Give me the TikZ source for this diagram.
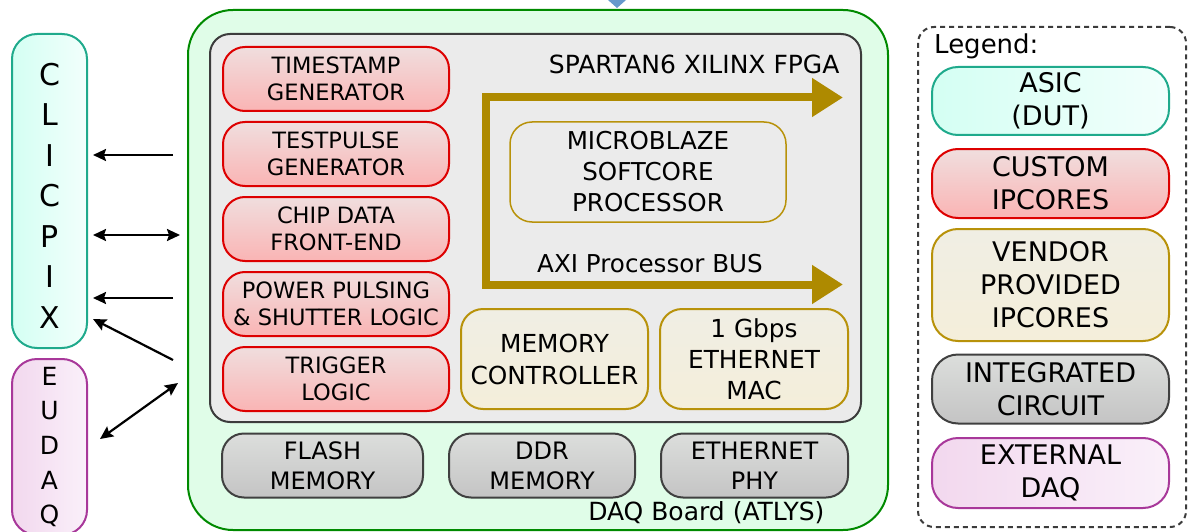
\documentclass[tikz,border=0pt]{standalone}
\usepackage{fontspec}
\setmainfont{DejaVu Sans}
\usetikzlibrary{arrows.meta}
\definecolor{tealb}{HTML}{1FAA8C}
\definecolor{tealf1}{HTML}{D4FFF3}
\definecolor{tealf2}{HTML}{F2FFFC}
\definecolor{redb}{HTML}{DD0000}
\definecolor{redf1}{HTML}{F0DEDE}
\definecolor{redf2}{HTML}{FAB4B4}
\definecolor{oliveb}{HTML}{B8920A}
\definecolor{olivef1}{HTML}{F0EEE4}
\definecolor{olivef2}{HTML}{F4EEDA}
\definecolor{grayb}{HTML}{404040}
\definecolor{grayf1}{HTML}{DCDEDC}
\definecolor{grayf2}{HTML}{C4C4C4}
\definecolor{purpb}{HTML}{A8389A}
\definecolor{purpf1}{HTML}{F2D8EE}
\definecolor{purpf2}{HTML}{FAF0FA}
\definecolor{greenb}{HTML}{008A00}
\definecolor{greenf}{HTML}{E0FDE8}
\definecolor{fpgaf}{HTML}{EBEBEB}
\definecolor{fpgab}{HTML}{3C3C3C}
\definecolor{axic}{HTML}{AE8A00}
\definecolor{bluet}{HTML}{6699CC}
\begin{document}
\begin{tikzpicture}[x=1pt,y=-1pt,
  base/.style={draw, line width=2pt, align=center, inner sep=0pt, font=\fontsize{22.5}{27}\selectfont},
  asicbox/.style={base, draw=tealb, left color=tealf1, right color=tealf2, rounded corners=25pt},
  redbox/.style={base, draw=redb, top color=redf1, bottom color=redf2, rounded corners=22pt},
  vendbox/.style={base, draw=oliveb, top color=olivef1, bottom color=olivef2, rounded corners=22pt},
  icbox/.style={base, draw=grayb, top color=grayf1, bottom color=grayf2, rounded corners=22pt},
  daqbox/.style={base, draw=purpb, left color=purpf1, right color=purpf2, rounded corners=25pt},
  legbox/.style={font=\fontsize{27}{33}\selectfont, minimum width=237pt, rounded corners=26pt},
  arr/.style={line width=2.2pt, -{Stealth[length=13pt,width=12pt,inset=2pt]}},
  darr/.style={line width=2.2pt, {Stealth[length=13pt,width=12pt,inset=2pt]}-{Stealth[length=13pt,width=12pt,inset=2pt]}},
  axi/.style={draw=axic, line width=8pt, line join=miter}
]
\useasboundingbox (0,0) rectangle (1188,532);

% top blue triangle
\fill[bluet] (608,0) -- (626,0) -- (617,8) -- cycle;

% DAQ board
\node[draw=greenb, line width=2pt, fill=greenf, rounded corners=45pt,
  minimum width=700pt, minimum height=520pt, inner sep=0pt] (board) at (538,270) {};
\node[anchor=east, font=\fontsize{25}{28}\selectfont] (boardlbl) at (828,513) {DAQ Board (ATLYS)};

% FPGA
\node[draw=fpgab, line width=2pt, fill=fpgaf, rounded corners=20pt,
  minimum width=651pt, minimum height=388pt, inner sep=0pt] (fpga) at (535.5,228) {};
\node[anchor=east, font=\fontsize{25}{28}\selectfont] (fpgalbl) at (843,64) {SPARTAN6 XILINX FPGA};

% custom ipcores
\node[redbox, minimum width=226pt, minimum height=64pt] (ts) at (336,79) {TIMESTAMP\\GENERATOR};
\node[redbox, minimum width=226pt, minimum height=64pt] (tp) at (336,154) {TESTPULSE\\GENERATOR};
\node[redbox, minimum width=226pt, minimum height=64pt] (cd) at (336,229) {CHIP DATA\\FRONT-END};
\node[redbox, minimum width=226pt, minimum height=64pt] (pp) at (336,304) {POWER PULSING\\\& SHUTTER LOGIC};
\node[redbox, minimum width=226pt, minimum height=64pt] (tr) at (336,379) {TRIGGER\\LOGIC};

% AXI bus
\coordinate (axitop) at (843,97.5);
\coordinate (axicorner1) at (486,97.5);
\coordinate (axicorner2) at (486,284.5);
\coordinate (axibot) at (843,284.5);
\draw[axi, {Triangle[length=31pt,width=37pt]}-{Triangle[length=31pt,width=37pt]}]
  (axitop) -- (axicorner1) -- (axicorner2) -- (axibot);
\node[font=\fontsize{24.6}{28}\selectfont] (axilbl) at (650,263.5) {AXI Processor BUS};

% vendor ipcores
\node[base, draw=oliveb, line width=1.5pt, fill=fpgaf, rounded corners=22pt,
  minimum width=276pt, minimum height=100pt, font=\fontsize{24.6}{31}\selectfont] (mb) at (648,172)
  {MICROBLAZE\\SOFTCORE\\PROCESSOR};
\node[vendbox, minimum width=187pt, minimum height=100pt, font=\fontsize{24.8}{32}\selectfont] (mc) at (554.5,359)
  {MEMORY\\CONTROLLER};
\node[vendbox, minimum width=188pt, minimum height=100pt, font=\fontsize{24.8}{31}\selectfont] (mac) at (754,359)
  {1 Gbps\\ETHERNET\\MAC};

% integrated circuits
\node[icbox, minimum width=201pt, minimum height=64pt, font=\fontsize{24}{30}\selectfont] (flash) at (322.5,465.5) {FLASH\\MEMORY};
\node[icbox, minimum width=186pt, minimum height=64pt, font=\fontsize{24}{30}\selectfont] (ddr) at (542,465.5) {DDR\\MEMORY};
\node[icbox, minimum width=187pt, minimum height=64pt, font=\fontsize{24}{30}\selectfont] (phy) at (754.5,465.5) {ETHERNET\\PHY};

% CLICPIX and EUDAQ
\node[asicbox, minimum width=75pt, minimum height=314pt, font=\fontsize{30}{40.5}\selectfont] (clicpix) at (49.5,191)
  {\rule{0pt}{31pt}C\\L\\I\\C\\P\\I\\X};
\node[daqbox, minimum width=75pt, minimum height=176pt, font=\fontsize{25}{34.6}\selectfont] (eudaq) at (49.5,447)
  {E\\U\\D\\A\\Q};

% connectors
\coordinate (c1) at (173,155);
\coordinate (c2) at (180,235);
\coordinate (c3) at (173,298);
\coordinate (c4s) at (173,360);
\coordinate (c4e) at (93,319);
\coordinate (c5s) at (178,383);
\coordinate (c5e) at (100,439);
\draw[arr, shorten >=5pt] (c1) -- (c1 -| clicpix.east);
\draw[darr, shorten <=5pt] (c2 -| clicpix.east) -- (c2);
\draw[arr, shorten >=5pt] (c3) -- (c3 -| clicpix.east);
\draw[arr] (c4s) -- (c4e);
\draw[darr] (c5e) -- (c5s);

% legend
\node[draw=fpgab, line width=2pt, dashed, dash pattern=on 5pt off 4pt, rounded corners=16pt,
  minimum width=268pt, minimum height=500pt, inner sep=0pt] (legend) at (1052,277) {};
\node[anchor=west, font=\fontsize{26}{30}\selectfont, inner sep=0pt] (leglbl) at (934,46) {Legend:};
\node[asicbox, legbox, minimum height=68pt] (lasic) at (1050.5,101) {ASIC\\(DUT)};
\node[redbox, legbox, minimum height=69pt] (lcust) at (1050.5,183.5) {CUSTOM\\IPCORES};
\node[vendbox, legbox, minimum height=112pt] (lvend) at (1050.5,285) {VENDOR\\PROVIDED\\IPCORES};
\node[icbox, legbox, minimum height=69pt] (lic) at (1050.5,389) {INTEGRATED\\CIRCUIT};
\node[daqbox, legbox, minimum height=70pt] (ldaq) at (1050.5,473) {EXTERNAL\\DAQ};
\end{tikzpicture}
\end{document}
